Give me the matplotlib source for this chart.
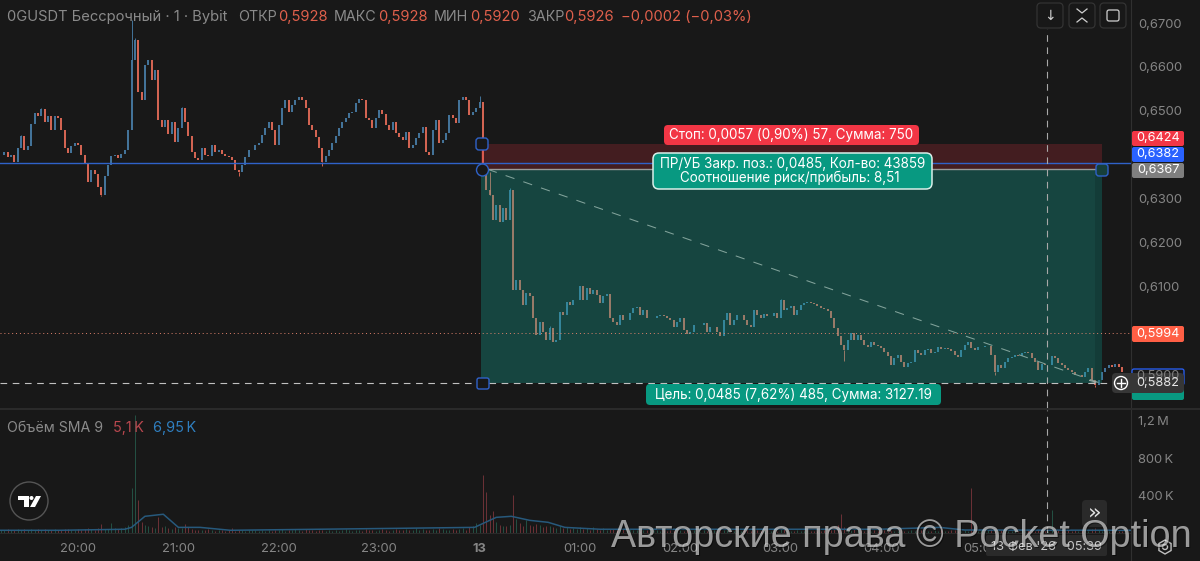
import matplotlib
matplotlib.use('Agg')
import matplotlib.pyplot as plt
from matplotlib.patches import Rectangle, FancyBboxPatch, Circle, Polygon, RegularPolygon

plt.rcParams['font.family'] = ['Inter', 'DejaVu Sans']

# two minute bars, closes as price * 10000
closes = [
    6400,6407,6395,6400,6384,6416,6443,6411,6420,6470,6495,6488,6504,6475,6488,6457,6488,6484,6457,6416,
    6404,6420,6427,6422,6400,6382,6338,6366,6357,6327,6309,6352,6377,6397,6400,6393,6402,6411,6457,6616,
    6661,6543,6525,6604,6616,6570,6593,6479,6463,6479,6448,6475,6429,6461,6507,6475,6443,6407,6393,6388,
    6416,6400,6397,6422,6407,6411,6402,6397,6395,6388,6366,6361,6377,6395,6411,6411,6422,6427,6445,6461,
    6475,6457,6422,6468,6507,6525,6498,6514,6525,6532,6525,6507,6468,6457,6441,6416,6384,6397,6411,6427,
    6443,6461,6475,6484,6495,6498,6518,6527,6525,6484,6479,6461,6484,6502,6493,6468,6457,6475,6450,6441,
    6434,6452,6416,6422,6438,6450,6463,6407,6400,6457,6479,6427,6434,6450,6491,6484,6472,6525,6532,6525,
    6491,6498,6507,6520,6377,6320,6309,6252,6286,6247,6279,6252,6320,6093,6115,6093,6059,6086,6079,6029,
    5990,6020,5997,5979,6006,5974,5979,6043,6036,6065,6059,6070,6070,6102,6070,6097,6084,6093,6081,6063,
    6079,6084,6029,6020,6013,6036,6024,6024,6040,6052,6054,6036,6047,6029,6029,6029,6034,6036,6034,6029,
    6024,6009,6020,6029,6002,5993,5997,6013,6013,6013,6018,5997,6009,6009,5997,5988,6024,6040,6013,6024,
    6036,6036,6024,6013,6009,6047,6036,6029,6038,6034,6034,6040,6029,6070,6047,6052,6056,6036,6047,6059,
    6063,6065,6063,6061,6056,6052,6049,6045,6029,6006,5988,5968,5956,5979,5995,5979,5990,5979,5968,5963,
    5974,5968,5965,5961,5952,5943,5922,5938,5945,5929,5917,5927,5929,5956,5949,5945,5956,5958,5949,5952,
    5963,5958,5961,5958,5954,5945,5940,5956,5968,5974,5961,5956,5963,5963,5965,5965,5945,5906,5922,5915,
    5929,5938,5940,5945,5943,5949,5952,5949,5938,5929,5911,5925,5922,5922,5943,5938,5927,5922,5915,5911,
    5906,5899,5899,5895,5906,5915,5888,5877,5888,5906,5915,5922,5917,5925,5917,5906,
]
# extreme wicks that stick out of the bodies
wick_bars = [6, 12, 30, 39, 40, 54, 71, 96, 143, 146, 152, 164, 233, 252, 297, 327]
wick_prices = [6445, 6506, 6306, 6707, 6665, 6510, 6352, 6375, 6535, 6361, 6325, 6010, 6072, 5931, 5900, 5872]

# volume in thousands per bar
volumes = [
    35,30,45,30,35,40,30,45,35,40,30,40,35,45,30,35,40,30,35,45,
    40,35,30,45,35,40,50,45,35,55,100,40,45,105,50,45,55,60,90,477,
    1255,349,120,90,70,60,50,175,60,70,50,45,60,55,50,95,60,40,35,30,
    35,30,40,30,25,35,30,25,30,55,25,30,35,25,30,35,30,25,30,25,
    30,25,35,30,40,25,30,35,45,30,25,40,35,30,25,30,35,25,30,25,
    30,25,35,40,30,25,35,30,25,40,30,35,25,30,40,35,25,30,45,35,
    30,45,35,30,50,35,40,30,35,45,30,50,40,35,30,45,35,40,50,35,
    60,70,110,90,615,434,189,231,114,90,70,80,90,402,150,110,80,140,90,70,
    100,90,60,80,70,60,55,70,50,60,45,50,40,60,45,50,35,60,40,35,
    50,35,45,40,30,35,45,30,40,35,30,25,35,30,25,30,35,25,30,25,
    30,25,20,30,25,35,20,30,25,20,35,25,20,30,25,55,30,35,25,20,
    30,25,35,60,25,45,30,25,20,35,25,30,20,55,40,30,25,20,30,25,
    25,30,20,25,20,25,30,35,45,60,90,200,60,40,30,45,35,30,25,20,
    25,30,20,25,30,20,35,25,20,30,25,20,35,25,20,30,25,20,25,30,
    25,30,20,25,30,35,25,20,30,25,477,40,25,30,25,30,40,30,25,35,
    30,25,20,30,25,35,20,30,25,20,35,25,30,20,242,25,30,20,25,35,
    25,30,20,35,25,20,40,50,35,25,30,20,25,30,20,25,
]
sma_minutes = [-47, -11, 28, 32, 40, 51, 60, 73, 91, 192, 237, 250, 259, 270, 281, 291, 312, 479, 515, 530, 629]
sma_k = [29, 29, 40, 60, 178, 200, 60, 60, 29, 50, 60, 167, 178, 135, 114, 60, 40, 40, 60, 32, 29]

first_minute = -46
price_ticks = [6100, 6200, 6300, 6500, 6600, 6700]
hour_ticks = [0, 60, 120, 180, 240, 300, 360, 420, 480, 540]
hour_labels = ['20:00', '21:00', '22:00', '23:00', '13', '01:00', '02:00', '03:00', '04:00', '05:00']
vol_ticks = [400, 800, 1200]
vol_labels = ['400\u2009K', '800\u2009K', '1,2\u2009M']

entry = 6367
stop = 6424
target = 5882
break_even = 6382
last_close = 5994
tool_start, tool_end = 241, 612
cross_minute = 579

BG = '#181818'
UP = '#4a82ad'
DOWN = '#f0705c'
GRAY = '#858585'

W, H = 1200, 561
fig = plt.figure(figsize=(W / 100, H / 100), dpi=100, facecolor=BG)

def px_axes(x0, y0, x1, y1):
    return fig.add_axes([x0 / W, 1 - y1 / H, (x1 - x0) / W, (y1 - y0) / H], facecolor=BG)

ax = px_axes(0, 0, 1131, 408)
ax_vol = px_axes(0, 410, 1131, 533)

t0 = -78 / 1.673
t1 = (1131 - 78) / 1.673
minutes = [first_minute + 2 * i for i in range(len(closes))]
opens = [closes[0]] + closes[:-1]

# candles
for i, t in enumerate(minutes):
    col = UP if closes[i] >= opens[i] else DOWN
    ax.vlines(t, opens[i] / 1e4, closes[i] / 1e4, color=col, lw=1.25, zorder=2)
for b, p in zip(wick_bars, wick_prices):
    col = UP if closes[b] >= opens[b] else DOWN
    ax.vlines(minutes[b], min(p, closes[b]) / 1e4, max(p, closes[b]) / 1e4, color=col, lw=0.6, zorder=2)

# position tool
ax.add_patch(Rectangle((tool_start, target / 1e4), tool_end - tool_start, (entry - target) / 1e4,
                       facecolor='#12b09d', alpha=0.3, lw=0, zorder=3))
ax.add_patch(Rectangle((tool_start, entry / 1e4), tool_end - tool_start, (stop - entry) / 1e4,
                       facecolor='#f23645', alpha=0.2, lw=0, zorder=3))
ax.add_patch(Rectangle((tool_end - 4, target / 1e4), 4, (entry - target) / 1e4,
                       facecolor='#000000', alpha=0.12, lw=0, zorder=3))
ax.plot([tool_start, tool_end], [entry / 1e4, entry / 1e4], color='#9a9a9a', lw=1, zorder=4)
ax.plot([tool_start + 4, tool_end - 2], [entry / 1e4, target / 1e4], color='#82a39b', lw=0.75,
        dashes=(9, 9), zorder=4)
ax.annotate('', xy=(tool_end - 2, target / 1e4), xytext=(tool_end - 9, 5879 / 1e4),
            arrowprops=dict(arrowstyle='-', color='#a3aeaa', lw=0.8), zorder=4)
ax.annotate('', xy=(tool_end - 2, target / 1e4), xytext=(tool_end - 9, 5888 / 1e4),
            arrowprops=dict(arrowstyle='-', color='#a3aeaa', lw=0.8), zorder=4)

ax.axhline(break_even / 1e4, color='#2f62c9', lw=1, zorder=4)
ax.axhline(last_close / 1e4, color='#e0826c', lw=0.7, ls=(0, (1, 3)), zorder=4)
ax.axhline(target / 1e4, color='#c0c0c0', lw=0.8, dashes=(6, 5), zorder=4)
ax.axvline(cross_minute, color='#a8a8a8', lw=0.8, dashes=(6, 5), ymax=0.93, zorder=4)
ax_vol.axvline(cross_minute, color='#a8a8a8', lw=0.8, dashes=(6, 5), zorder=4)

ax.set_xlim(t0, t1)
ax.set_ylim(0.67 - 385 / 4395, 0.67 + 23 / 4395)
ax.set_xticks([])
ax.yaxis.tick_right()
ax.set_yticks([p / 1e4 for p in price_ticks])
ax.set_yticklabels([f'{p / 1e4:.4f}'.replace('.', ',') for p in price_ticks], fontsize=9.3, color=GRAY)
ax.tick_params(axis='y', length=0, pad=5)

# volume pane
for t, v, o, c in zip(minutes, volumes, opens, closes):
    col = '#84383e' if c < o else '#27614f'
    ax_vol.vlines(t, 0, v, color=col, lw=0.55, zorder=2)
ax_vol.plot(sma_minutes, sma_k, color='#27597c', lw=1.1, zorder=3)
ax_vol.set_xlim(t0, t1)
ax_vol.set_ylim(0, 123 * 10.667)
ax_vol.yaxis.tick_right()
ax_vol.set_yticks(vol_ticks)
ax_vol.set_yticklabels(vol_labels, fontsize=9.3, color=GRAY)
ax_vol.set_xticks(hour_ticks)
ax_vol.set_xticklabels(hour_labels, fontsize=9.3, color=GRAY)
ax_vol.get_xticklabels()[4].set_fontweight('bold')
ax_vol.tick_params(axis='y', length=0, pad=5)
ax_vol.tick_params(axis='x', length=0, pad=7)

for a in (ax, ax_vol):
    for s in a.spines.values():
        s.set_visible(False)
    a.spines['right'].set_visible(True)
    a.spines['right'].set_color('#303030')
ax_vol.spines['bottom'].set_visible(True)
ax_vol.spines['bottom'].set_color('#2a2a2a')

# pixel overlay for labels and chrome
ov = fig.add_axes([0, 0, 1, 1], facecolor='none', zorder=10)
ov.set_xlim(0, W)
ov.set_ylim(H, 0)
ov.axis('off')

ov.add_patch(Rectangle((0, 408), W, 2, facecolor='#2a2a2a', lw=0))
ov.plot([1131, 1131], [533, H], color='#303030', lw=0.8)

def box(x0, y0, x1, y1, color, r=3, ec='none', lw=0, z=5):
    ov.add_patch(FancyBboxPatch((x0 + r, y0 + r), x1 - x0 - 2 * r, y1 - y0 - 2 * r,
                                boxstyle=f'round,pad={r},rounding_size={r}',
                                facecolor=color, edgecolor=ec, lw=lw, zorder=z))

def label(x, y, s, color='white', size=9.2, ha='left', **kw):
    ov.text(x, y, s, color=color, fontsize=size, ha=ha, va='center', zorder=8, **kw)

# header
HEAD = '#8a8a8a'
RED = '#e0604c'
label(7, 16.5, '0GUSDT Бессрочный · 1 · Bybit', HEAD, 10.6)
for x, s in [(238, 'ОТКР'), (334, 'МАКС'), (434, 'МИН'), (527, 'ЗАКР')]:
    label(x, 16.5, s, HEAD, 10.3)
for x, s in [(278, '0,5928'), (378, '0,5928'), (470, '0,5920'), (564, '0,5926'), (621, '−0,0002 (−0,03%)')]:
    label(x, 16.5, s, RED, 10.6)

# buttons
for x0 in (1037, 1069, 1100):
    box(x0, 3, x0 + 26, 28, BG, r=4, ec='#333333', lw=0.9)
label(1050, 15.5, '↓', '#d0d0d0', 10, ha='center', family='DejaVu Sans')
ov.plot([1077, 1082, 1087], [9, 13, 9], color='#d0d0d0', lw=0.9, zorder=8)
ov.plot([1077, 1082, 1087], [22, 18, 22], color='#d0d0d0', lw=0.9, zorder=8)
box(1107, 10, 1119, 21, 'none', r=2, ec='#d0d0d0', lw=0.9)

# tool labels
box(664, 125, 919, 145, '#f23645', r=4)
label(791.5, 135, 'Стоп: 0,0057 (0,90%) 57, Сумма: 750', size=9.7, ha='center')
box(653, 153, 932, 189, '#089981', r=6, ec='#d8efe9', lw=1.1)
label(792.5, 164, 'ПР/УБ Закр. поз.: 0,0485, Кол-во: 43859', size=9.7, ha='center')
label(790, 178, 'Соотношение риск/прибыль: 8,51', size=9.7, ha='center')
box(646, 384, 941, 405, '#089981', r=4)
label(793.5, 395, 'Цель: 0,0485 (7,62%) 485, Сумма: 3127.19', size=9.7, ha='center')

# handles
box(476, 138, 488, 150, '#181818', r=3, ec='#2f62c9', lw=1)
ov.add_patch(Circle((482.5, 170), 6, facecolor='#181818', edgecolor='#2f62c9', lw=1, zorder=6))
box(1096, 164, 1108, 176, '#173f3a', r=3, ec='#2f62c9', lw=1)
box(477, 378, 489, 389, '#181818', r=2, ec='#2f62c9', lw=1)

# price labels
for y0, y1, col, s in [(131, 146, '#f23645', '0,6424'), (147, 162, '#2962ff', '0,6382'),
                       (163, 178, '#7f7f7f', '0,6367'), (326, 342, '#ff5f45', '0,5994')]:
    box(1132, y0, 1184, y1, col, r=2)
    label(1158, (y0 + y1) / 2 - 0.5, s, ha='center')
box(1132, 369, 1184, 385, BG, r=2, ec='#2962ff', lw=0.9)
label(1158, 376, '0,5900', '#7f7f7f', ha='center')
box(1132, 388, 1184, 400, '#089981', r=2)
box(1112, 373, 1184, 393, '#363636', r=4)
ov.add_patch(Circle((1121, 383), 6.5, facecolor='none', edgecolor='white', lw=1, zorder=8))
ov.plot([1117, 1125], [383, 383], color='white', lw=1, zorder=8)
ov.plot([1121, 1121], [379, 387], color='white', lw=1, zorder=8)
label(1158, 382.5, '0,5882', '#e6e6e6', ha='center')

# volume legend
label(7, 428, 'Объём SMA 9', HEAD, 10.2)
label(113, 428, '5,1\u2009K', '#b8474e', 10.4)
label(153, 428, '6,95\u2009K', '#2f7fc0', 10.4)

# logo
ov.add_patch(Circle((29, 501), 19, facecolor='#181818', edgecolor='#555555', lw=1, zorder=6))
ov.add_patch(Polygon([(18, 496), (29, 496), (29, 507), (24, 507), (24, 500), (18, 500)], facecolor='white', zorder=7))
ov.add_patch(Circle((31.5, 498), 2, facecolor='white', zorder=7))
ov.add_patch(Polygon([(36, 496), (41, 496), (35, 507), (30, 507)], facecolor='white', zorder=7))

# scroll button
box(1082, 500, 1107, 527, '#2a2a2a', r=4)
label(1094.5, 512.5, '»', '#e0e0e0', 16, ha='center', family='DejaVu Sans')

# settings icon
ov.add_patch(RegularPolygon((1165, 547), 6, radius=7, facecolor='none', edgecolor='#c0c0c0', lw=1, zorder=7))
ov.add_patch(Circle((1165, 547), 2.5, facecolor='none', edgecolor='#c0c0c0', lw=1, zorder=7))

# crosshair time
box(986, 535, 1107, 556, '#2a2a2a', r=2)
label(1046, 547, "13 Фев '26   05:39", '#c8c8c8', 9.2, ha='center')

# watermark
for dx, col, a in [(1, '#000000', 0.45), (0, '#ffffff', 0.58)]:
    ov.text(611 + dx, 537 + dx, 'Авторские права © Pocket Option', color=col, alpha=a,
            fontsize=27.2, family='Liberation Sans', ha='left', va='center', zorder=9)

fig.savefig('out.png', dpi=100, facecolor=BG)
